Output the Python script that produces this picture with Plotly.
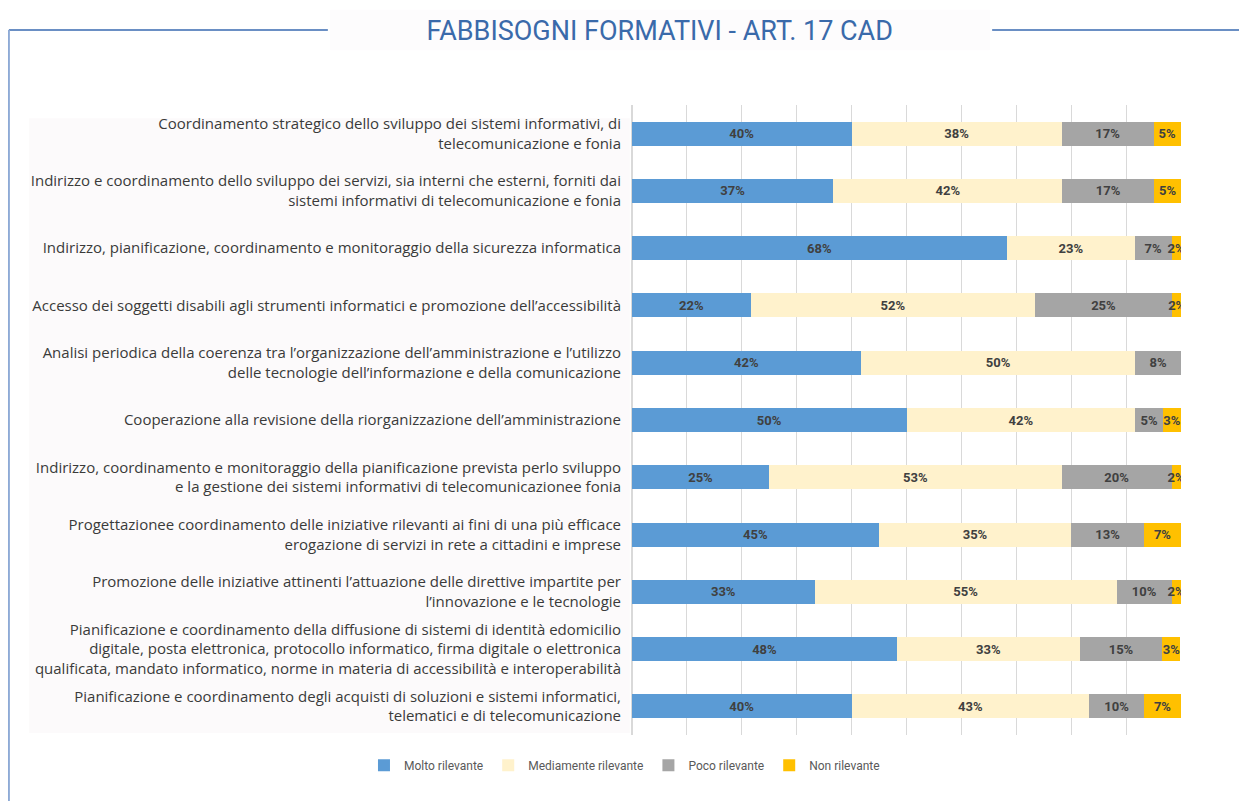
import plotly.graph_objects as go

categories = [
    "Coordinamento strategico dello sviluppo dei sistemi informativi, di<br>telecomunicazione e fonia",
    "Indirizzo e coordinamento dello sviluppo dei servizi, sia interni che esterni, forniti dai<br>sistemi informativi di telecomunicazione e fonia",
    "Indirizzo, pianificazione, coordinamento e monitoraggio della sicurezza informatica",
    "Accesso dei soggetti disabili agli strumenti informatici e promozione dell’accessibilità",
    "Analisi periodica della coerenza tra l’organizzazione dell’amministrazione e l’utilizzo<br>delle tecnologie dell’informazione e della comunicazione",
    "Cooperazione alla revisione della riorganizzazione dell’amministrazione",
    "Indirizzo, coordinamento e monitoraggio della pianificazione prevista perlo sviluppo<br>e la gestione dei sistemi informativi di telecomunicazionee fonia",
    "Progettazionee coordinamento delle iniziative rilevanti ai fini di una più efficace<br>erogazione di servizi in rete a cittadini e imprese",
    "Promozione delle iniziative attinenti l’attuazione delle direttive impartite per<br>l’innovazione e le tecnologie",
    "Pianificazione e coordinamento della diffusione di sistemi di identità edomicilio<br>digitale, posta elettronica, protocollo informatico, firma digitale o elettronica<br>qualificata, mandato informatico, norme in materia di accessibilità e interoperabilità",
    "Pianificazione e coordinamento degli acquisti di soluzioni e sistemi informatici,<br>telematici e di telecomunicazione",
]

molto = [40.0, 36.7, 68.3, 21.7, 41.7, 50.0, 25.0, 45.0, 33.3, 48.3, 40.0]
mediamente = [38.3, 41.7, 23.3, 51.7, 50.0, 41.7, 53.3, 35.0, 55.0, 33.3, 43.3]
poco = [16.7, 16.7, 6.7, 25.0, 8.3, 5.0, 20.0, 13.3, 10.0, 15.0, 10.0]
non = [5.0, 5.0, 1.7, 1.7, 0.0, 3.3, 1.7, 6.7, 1.7, 3.3, 6.7]

series = [
    ("Molto rilevante", molto, "#5b9bd5"),
    ("Mediamente rilevante", mediamente, "#fff2cc"),
    ("Poco rilevante", poco, "#a5a5a5"),
    ("Non rilevante", non, "#ffc000"),
]

fig = go.Figure()
for name, vals, col in series:
    labels = [f"{round(v)}%" if v > 0 else "" for v in vals]
    fig.add_trace(go.Bar(
        y=categories, x=vals, name=name, orientation="h",
        marker=dict(color=col, line=dict(width=0)),
        text=labels, textposition="inside", insidetextanchor="middle",
        textangle=0, width=0.42,
        textfont=dict(family="Roboto", size=13, color="#404040", weight="bold"),
        hoverinfo="skip",
    ))

# pannello etichette, cornice e box del titolo
shapes = [
    dict(type="rect", xref="paper", yref="paper", x0=-1.098, x1=-0.004, y0=0.003, y1=0.979,
         fillcolor="#fcfafb", line=dict(width=0), layer="below"),
    dict(type="rect", xref="paper", yref="paper", x0=-0.55, x1=0.652, y0=1.087, y1=1.151,
         fillcolor="#fdfcfd", line=dict(width=0), layer="below"),
    dict(type="line", xref="paper", yref="paper", x0=-1.135, x1=-0.554, y0=1.119, y1=1.119,
         line=dict(color="#6a8fc4", width=2)),
    dict(type="line", xref="paper", yref="paper", x0=0.656, x1=1.13, y0=1.119, y1=1.119,
         line=dict(color="#6a8fc4", width=2)),
    dict(type="line", xref="paper", yref="paper", x0=-1.135, x1=-1.135, y0=1.119, y1=-0.12,
         line=dict(color="#8eaad6", width=2)),
]

# la pagina aggiunge 8px di margine: figura ridotta e spostata
fig.update_layout(
    width=1239, height=793,
    barmode="stack",
    paper_bgcolor="white", plot_bgcolor="white",
    margin=dict(l=624, r=66, t=97, b=66),
    title=dict(text="FABBISOGNI FORMATIVI - ART. 17 CAD", xref="container", yref="container",
               x=0.526, y=0.972, xanchor="center", yanchor="middle",
               font=dict(family="Roboto", size=27, color="#3a6aaa")),
    uniformtext=dict(minsize=13, mode="show"),
    legend=dict(orientation="h", x=-0.0137, xanchor="center", y=-0.048, yanchor="middle",
                font=dict(family="Roboto", size=12, color="#595959"), itemwidth=30,
                traceorder="normal"),
    shapes=shapes,
)
fig.update_xaxes(range=[0, 100], dtick=10, showticklabels=False, showgrid=True,
                 gridcolor="#d9d9d9", gridwidth=1, zeroline=True, zerolinecolor="#d9d9d9",
                 fixedrange=True)
fig.update_yaxes(autorange="reversed", showgrid=False, ticks="", ticklabelstandoff=10,
                 tickfont=dict(family="Open Sans", size=15, color="#3a3a3a"))

fig.write_html("out.html")
